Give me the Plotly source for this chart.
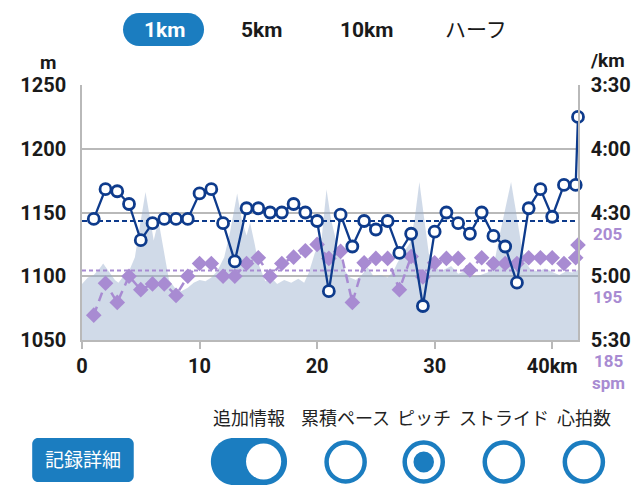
import plotly.graph_objects as go

# pace per km split (seconds per km), last point is the final 0.195 km
pace_km = list(range(1, 43)) + [42.195]
pace_sec = [273, 259, 260, 266, 283, 275, 273, 273, 273, 261,
            259, 275, 293, 268, 268, 270, 270, 266, 270, 274,
            307, 271, 286, 274, 278, 274, 289, 280, 314, 279,
            270, 275, 280, 270, 281, 286, 303, 268, 259, 272,
            257, 257, 225]
pace_avg = 274

# pitch (steps per minute) per km split
pitch_spm = [188.9, 193.9, 190.9, 195.0, 192.9, 193.8, 193.8, 192.0, 195.0, 197.0,
             197.0, 195.0, 195.0, 197.0, 197.9, 195.0, 197.0, 198.0, 199.0, 200.0,
             197.8, 198.9, 190.9, 197.1, 197.8, 197.8, 192.9, 198.1, 194.9, 197.1,
             197.8, 197.8, 196.0, 197.9, 197.0, 197.0, 197.0, 197.9, 197.9, 197.9,
             197.0, 197.9, 199.9]
pitch_avg = 195.9

# elevation profile (m)
elev_km = [0, 0.5, 1.0, 1.5, 1.8, 2.3, 2.8, 3.1, 3.6, 4.0,
           4.5, 4.9, 5.4, 5.8, 6.1, 6.5, 6.9, 7.4, 7.9, 8.4,
           9.0, 9.5, 10.0, 10.5, 11.0, 11.5, 12.1, 12.6, 13.2, 13.6,
           14.0, 14.3, 14.7, 15.0, 15.6, 16.1, 16.6, 17.2, 17.8, 18.4,
           18.9, 19.3, 19.8, 20.4, 20.8, 21.2, 21.8, 22.3, 22.8, 23.3,
           23.8, 24.3, 24.8, 25.4, 26.0, 26.5, 26.8, 27.3, 27.9, 28.3,
           28.7, 29.1, 29.5, 30.0, 30.5, 31.0, 31.4, 32.0, 32.6, 33.2,
           33.9, 34.5, 35.0, 35.5, 36.1, 36.5, 36.9, 37.4, 37.8, 38.2,
           38.8, 39.4, 40.1, 40.6, 41.2, 41.7, 42.195]
elev_m = [1094, 1099, 1101, 1106, 1110, 1103, 1097, 1095, 1101, 1104,
          1115, 1138, 1166, 1145, 1128, 1144, 1124, 1097, 1091, 1088,
          1091, 1095, 1097, 1096, 1099, 1104, 1115, 1135, 1165, 1144,
          1132, 1142, 1125, 1110, 1096, 1099, 1094, 1097, 1095, 1098,
          1095, 1103, 1118, 1131, 1168, 1144, 1121, 1105, 1099, 1097,
          1101, 1107, 1100, 1101, 1099, 1104, 1110, 1118, 1126, 1145,
          1174, 1144, 1118, 1108, 1104, 1106, 1108, 1102, 1104, 1100,
          1101, 1103, 1107, 1131, 1157, 1174, 1152, 1123, 1110, 1105,
          1104, 1106, 1103, 1101, 1104, 1103, 1105]

elev_ticks = [1050, 1100, 1150, 1200, 1250]
pace_ticks = [210, 240, 270, 300, 330]
pace_labels = ['3:30', '4:00', '4:30', '5:00', '5:30']
pitch_labels = [205, 195]
x_ticks = [0, 10, 20, 30, 40]
x_labels = ['0', '10', '20', '30', '40km']

tabs = ['1km', '5km', '10km', 'ハーフ']
options = ['追加情報', '累積ペース', 'ピッチ', 'ストライド', '心拍数']

NAVY = '#0e3b8c'
PURPLE = '#a88bd2'
BLUE = '#1b7dc0'
GRID = '#b9b9b9'

# the page puts the figure 8px in from the top-left corner
OFF = 8
W, H = 643 - OFF, 495 - OFF
# plot rectangle in window pixels
L, R, T, B = 73, 581, 85, 340
ML, MT = L - OFF, T - OFF
MR, MB = W - (R - OFF), H - (B - OFF)
PW, PH = R - L, B - T


# window pixel -> paper helpers for the app-style controls around the chart
def px(x):
    return (x - L) / PW


def py(y):
    return (B - y) / PH


def rrect(x0, y0, x1, y1, r):
    k = 0.5523 * r
    return (f"M {px(x0 + r)},{py(y0)} L {px(x1 - r)},{py(y0)} "
            f"C {px(x1 - r + k)},{py(y0)} {px(x1)},{py(y0 + r - k)} {px(x1)},{py(y0 + r)} "
            f"L {px(x1)},{py(y1 - r)} "
            f"C {px(x1)},{py(y1 - r + k)} {px(x1 - r + k)},{py(y1)} {px(x1 - r)},{py(y1)} "
            f"L {px(x0 + r)},{py(y1)} "
            f"C {px(x0 + r - k)},{py(y1)} {px(x0)},{py(y1 - r + k)} {px(x0)},{py(y1 - r)} "
            f"L {px(x0)},{py(y0 + r)} "
            f"C {px(x0)},{py(y0 + r - k)} {px(x0 + r - k)},{py(y0)} {px(x0 + r)},{py(y0)} Z")


def circle(cx, cy, r, **kw):
    return dict(type='circle', xref='paper', yref='paper',
                x0=px(cx - r), x1=px(cx + r), y0=py(cy + r), y1=py(cy - r), **kw)


fig = go.Figure()

# elevation area
fig.add_trace(go.Scatter(x=elev_km, y=elev_m, mode='lines', fill='tozeroy',
                         line=dict(width=0, color='rgba(150,172,204,0.45)'),
                         fillcolor='rgba(150,172,204,0.45)', yaxis='y'))

# pitch
fig.add_trace(go.Scatter(x=[0, elev_km[-1]], y=[pitch_avg, pitch_avg], mode='lines',
                         line=dict(color=PURPLE, width=2, dash='4px,3px'), yaxis='y2'))
fig.add_trace(go.Scatter(x=pace_km, y=pitch_spm, mode='lines+markers',
                         line=dict(color=PURPLE, width=2.5, dash='9px,6px'),
                         marker=dict(symbol='diamond', size=12, color=PURPLE),
                         cliponaxis=False, yaxis='y2'))

# pace
fig.add_trace(go.Scatter(x=[0, elev_km[-1]], y=[pace_avg, pace_avg], mode='lines',
                         line=dict(color=NAVY, width=2, dash='5px,3px'), yaxis='y3'))
fig.add_trace(go.Scatter(x=pace_km, y=pace_sec, mode='lines+markers',
                         line=dict(color=NAVY, width=2.3),
                         marker=dict(symbol='circle', size=11, color='white',
                                     line=dict(color=NAVY, width=2.8)),
                         cliponaxis=False, yaxis='y3'))

tickfont = dict(size=20, color='#1a1a1a', weight='bold')

fig.update_layout(
    width=W, height=H,
    margin=dict(l=ML, r=MR, t=MT, b=MB),
    paper_bgcolor='white', plot_bgcolor='white',
    showlegend=False,
    font=dict(family="Roboto, 'Noto Sans CJK JP', sans-serif", color='#1a1a1a'),
    xaxis=dict(range=[0, elev_km[-1]], tickvals=x_ticks, ticktext=x_labels,
               showgrid=False, zeroline=False, showline=True, linecolor=GRID,
               linewidth=1.5, ticks='outside', ticklen=7, tickcolor=GRID,
               tickwidth=1.5, tickfont=tickfont),
    yaxis=dict(range=[1050, 1250], tickvals=elev_ticks, showgrid=True,
               gridcolor=GRID, gridwidth=1.5, zeroline=False, showline=True,
               linecolor=GRID, linewidth=1.5, tickfont=tickfont,
               ticklabelstandoff=10),
    yaxis2=dict(range=[185, 225], overlaying='y', visible=False),
    yaxis3=dict(range=[330, 210], overlaying='y', side='right',
                tickvals=pace_ticks, ticktext=pace_labels, showgrid=False,
                zeroline=False, showline=True, linecolor=GRID, linewidth=1.5,
                tickfont=tickfont, ticklabelstandoff=7),
)

shapes = []
ann = []

# distance tabs
shapes.append(dict(type='path', xref='paper', yref='paper',
                   path=rrect(115, 13, 198, 46, 16.5), fillcolor=BLUE, line_width=0))
for t, x, c, wgt in zip(tabs, [157, 257, 365, 477],
                        ['white', '#1a1a1a', '#1a1a1a', '#1a1a1a'],
                        ['bold', 'bold', 'bold', 'normal']):
    ann.append(dict(text=t, x=px(x), y=py(30), font=dict(size=21, color=c, weight=wgt)))

# axis units
ann.append(dict(text='m', x=px(38), y=py(62), font=dict(size=19, weight='bold')))
ann.append(dict(text='/km', x=px(611), y=py(61), font=dict(size=19, weight='bold')))

# pitch labels under pace labels
for v in pitch_labels:
    ann.append(dict(text=str(v), xref='paper', yref='y2', x=px(612), y=v, yshift=-21,
                    font=dict(size=17, color=PURPLE, weight='bold')))
ann.append(dict(text='185<br>spm', xref='paper', yref='y2', x=px(612), y=185,
                yshift=-32, font=dict(size=17, color=PURPLE, weight='bold')))

# option labels and controls
opt_x = [244, 343, 423, 505, 587]
for t, x in zip(options, opt_x):
    ann.append(dict(text=t, x=px(x), y=py(418), font=dict(size=18, color='#222222')))

shapes.append(dict(type='path', xref='paper', yref='paper',
                   path=rrect(205, 438, 283, 485, 23.5), fillcolor=BLUE, line_width=0))
shapes.append(circle(259, 461.5, 18, fillcolor='white', line_width=0))
for i, x in enumerate(opt_x[1:]):
    shapes.append(circle(x, 462, 19.5, fillcolor='white', line=dict(color=BLUE, width=4.5)))
    if options[i + 1] == 'ピッチ':
        shapes.append(circle(x, 462, 10.5, fillcolor=BLUE, line_width=0))

# record details button
shapes.append(dict(type='path', xref='paper', yref='paper',
                   path=rrect(22, 438, 126, 482, 6), fillcolor=BLUE, line_width=0))
ann.append(dict(text='記録詳細', x=px(74), y=py(460), font=dict(size=19, color='white')))

for a in ann:
    a.setdefault('xref', 'paper')
    a.setdefault('yref', 'paper')
    a.update(showarrow=False, xanchor='center', yanchor='middle')

fig.update_layout(shapes=shapes, annotations=ann)

fig.write_html("out.html")
